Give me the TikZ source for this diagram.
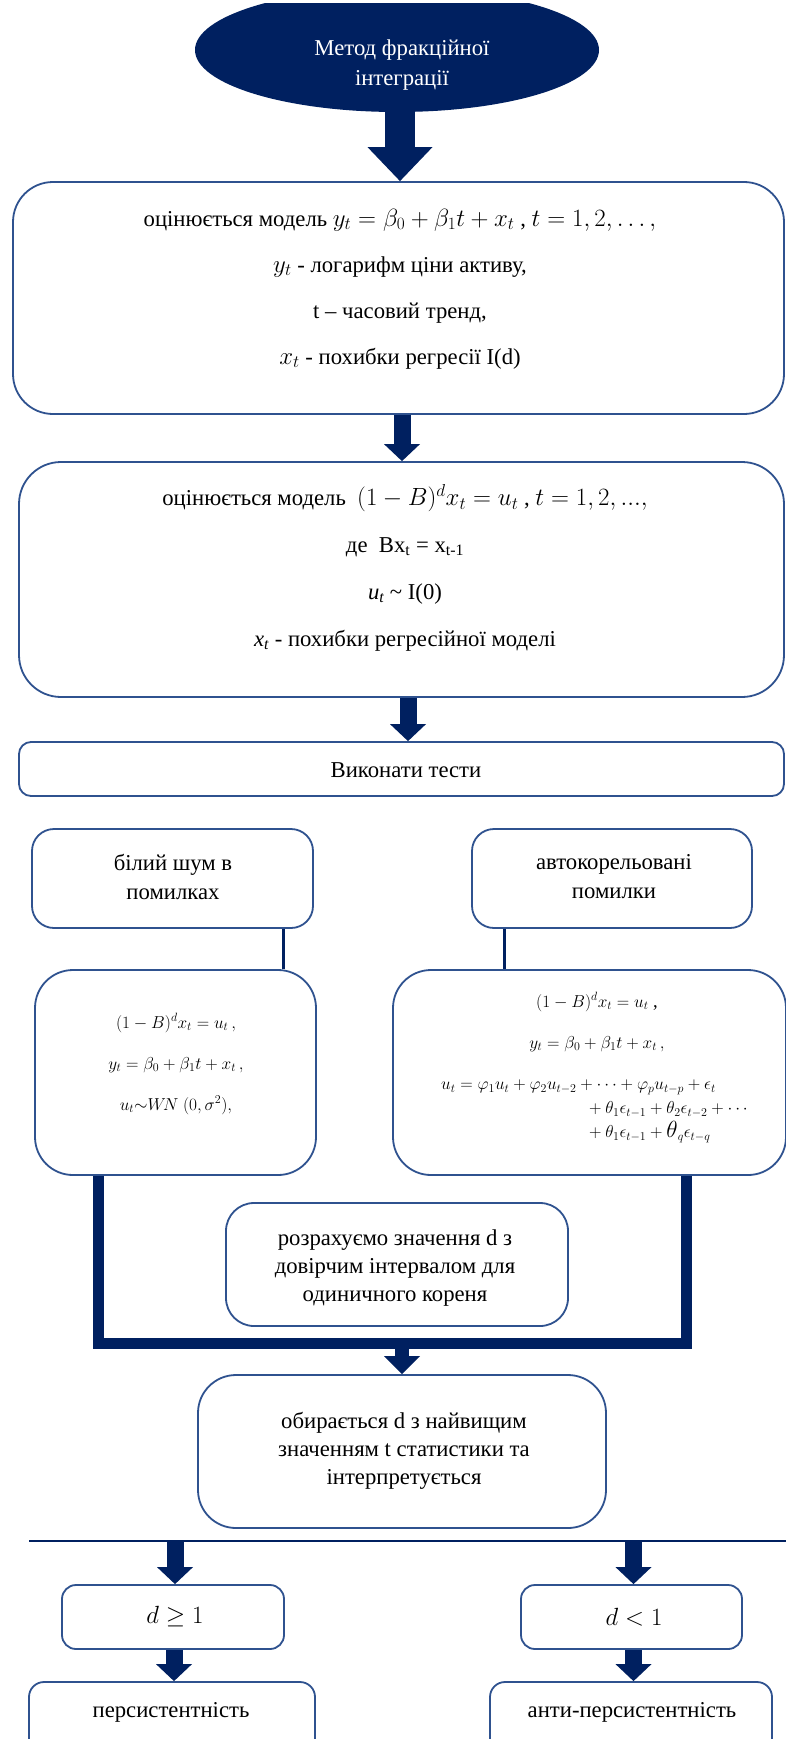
\documentclass[tikz,border=0pt]{standalone}
\usepackage{fontspec}
\setmainfont{Liberation Serif}
\usepackage{graphicx}
\usetikzlibrary{shapes.geometric,arrows.meta,calc}
\definecolor{navy}{RGB}{0,32,96}
\definecolor{edge}{RGB}{47,82,143}
% formulas inside the text lines are set a little larger than the text
\newcommand{\fmla}[1]{{\fontsize{25.5}{46}\selectfont$#1$}}

\begin{document}
\begin{tikzpicture}[x=1pt,y=-1pt,
  box/.style={draw=edge, line width=1.8pt, fill=white, inner sep=0pt},
  txt/.style={align=center, inner sep=0pt, font=\fontsize{22.7}{#1}\selectfont},
  mtxt/.style={align=center, inner sep=0pt, font=\fontsize{18.7}{#1}\selectfont},
  conn/.style={draw=navy, line width=3pt},
  rule/.style={draw=navy, line width=2.2pt},
  bracket/.style={draw=navy, line width=11pt, miter limit=10},
  blk/.style={draw=navy, line width=17pt, -{Triangle[width=36pt,length=17pt,line width=0pt]}},
  blkbig/.style={draw=navy, line width=30pt, -{Triangle[width=65pt,length=34pt,line width=0pt]}},
  blkthin/.style={draw=navy, line width=14pt, -{Triangle[width=36pt,length=18pt,line width=0pt]}}
]
\useasboundingbox (0,0) rectangle (786,1739);
\fill[white] (0,0) rectangle (786,1739);

% start terminal (flattened at the top)
\begin{scope}
  \clip (0,4) rectangle (786,300);
  \node[ellipse, fill=navy, minimum width=404pt, minimum height=124pt, inner sep=0pt] (e) at (397,50) {};
\end{scope}
\node[txt=30, text=white] (et) at (402,65) {Метод фракційної\\інтеграції};

% process boxes
\node[box, rounded corners=40pt, minimum width=771pt, minimum height=232pt] (b1) at (398.5,298) {};
\node[box, rounded corners=42pt, minimum width=765pt, minimum height=235pt] (b2) at (401.5,579.5) {};
\node[box, rounded corners=12pt, minimum width=765pt, minimum height=54pt] (b3) at (401.5,769) {};
\node[box, rounded corners=22pt, minimum width=281pt, minimum height=99pt] (b4) at (172.5,878.5) {};
\node[box, rounded corners=22pt, minimum width=280pt, minimum height=99pt] (b5) at (612,878.5) {};
\node[box, rounded corners=38pt, minimum width=281pt, minimum height=205pt] (b6) at (175.5,1072.5) {};
\node[box, rounded corners=38pt, minimum width=393pt, minimum height=205pt] (b7) at (589.5,1072.5) {};
\node[box, rounded corners=28pt, minimum width=342pt, minimum height=123pt] (b8) at (397,1264.5) {};
\node[box, rounded corners=38pt, minimum width=408pt, minimum height=153pt] (b9) at (402,1451.5) {};
\node[box, rounded corners=14pt, minimum width=222pt, minimum height=64pt] (b10) at (173,1617) {};
\node[box, rounded corners=14pt, minimum width=221pt, minimum height=64pt] (b11) at (631.5,1617) {};
\node[box, rounded corners=15pt, minimum width=286pt, minimum height=88pt] (b12) at (172,1726) {};
\node[box, rounded corners=15pt, minimum width=282pt, minimum height=88pt] (b13) at (631,1726) {};

% box texts
\node[txt=46] (t1) at (400,289) {оцінюється модель \fmla{y_t=\beta_0+\beta_1t+x_t} , \fmla{t=1,2,\ldots,}\\
  \fmla{y_t} - логарифм ціни активу,\\
  t – часовий тренд,\\
  \fmla{x_t} - похибки регресії I(d)};
\node[txt=47] (t2) at (405,568) {оцінюється модель \ \fmla{(1-B)^d x_t=u_t} , \fmla{t=1,2,...,}\\
  де \ Bx\textsubscript{t} = x\textsubscript{t-1}\\
  \textit{u\textsubscript{t}} \textasciitilde{} I(0)\\
  \textit{x\textsubscript{t}} - похибки регресійної моделі};
\node[txt=27] (t3) at (406,770) {Виконати тести};
\node[txt=29] (t4) at (173,877) {білий шум в\\помилках};
\node[txt=29] (t5) at (614,877) {автокорельовані\\помилки};
\node[mtxt=41] (t6) at (176,1064) {$(1-B)^d x_t=u_t\,,$\\ $y_t=\beta_0+\beta_1t+x_t\,,$\\ $u_t{\sim}W\!N\ (0,\sigma^2),$};
\node[mtxt=41] (t7a) at (597,1022) {$(1-B)^d x_t=u_t$ ,\\ $y_t=\beta_0+\beta_1t+x_t\,,$};
\node[mtxt=24, font=\fontsize{18}{24}\selectfont, align=left, anchor=west] (t7b) at (441,1111) {$u_t=\varphi_1u_t+\varphi_2u_{t-2}+\cdots+\varphi_pu_{t-p}+\epsilon_t$\\
  \hspace*{144pt}${}+\theta_1\epsilon_{t-1}+\theta_2\epsilon_{t-2}+\cdots$\\
  \hspace*{144pt}${}+\theta_1\epsilon_{t-1}+\scalebox{1.35}{$\theta$}_q\epsilon_{t-q}$};
\node[txt=28] (t8) at (395,1268) {розрахуємо значення d з\\довірчим інтервалом для\\одиничного кореня};
\node[txt=28] (t9) at (404,1451) {обирається d з найвищим\\значенням t статистики та\\інтерпретується};
\node[txt=27] (t10) at (175,1617) {\fmla{d\geq 1}};
\node[txt=27] (t11) at (634,1617) {\fmla{d<1}};
\node[txt=27] (t12) at (171,1712) {персистентність};
\node[txt=27] (t13) at (632,1712) {анти-персистентність};

% block arrows down the main column
\draw[blkbig] ([xshift=3pt]e.south) -- ([xshift=3pt]e.south |- b1.north);
\draw[blk] ([xshift=3.5pt]b1.south) -- ([xshift=3.5pt]b1.south |- b2.north);
\draw[blk] ([xshift=6.5pt]b2.south) -- ([xshift=6.5pt]b2.south |- b3.north);

% thin links from the test cases to their models
\draw[conn] ([xshift=-30pt]b4.south east) -- ([xshift=-30pt]b4.south east |- b6.north);
\draw[conn] ([xshift=33pt]b5.south west) -- ([xshift=33pt]b5.south west |- b7.north);

% heavy bracket joining both models
\coordinate (brL) at ([xshift=64pt]b6.south west);
\coordinate (brR) at ([xshift=294pt]b7.south west);
\coordinate (brB) at (0,1343);
\draw[bracket] (brL) -- (brL |- brB) -- (brR |- brB) -- (brR);
\draw[blkthin] (b9.north |- brB) -- (b9.north);

% split into the two outcomes
\coordinate (hlL) at (29,1541);
\coordinate (hlR) at (786,1541);
\draw[rule] (hlL) -- (hlR);
\draw[blk] ([xshift=2pt]b10.north |- hlL) -- ([xshift=2pt]b10.north);
\draw[blk] ([xshift=2pt]b11.north |- hlL) -- ([xshift=2pt]b11.north);
\draw[blk] ([xshift=1pt]b10.south) -- ([xshift=1pt]b10.south |- b12.north);
\draw[blk] ([xshift=2pt]b11.south) -- ([xshift=2pt]b11.south |- b13.north);
\end{tikzpicture}
\end{document}
